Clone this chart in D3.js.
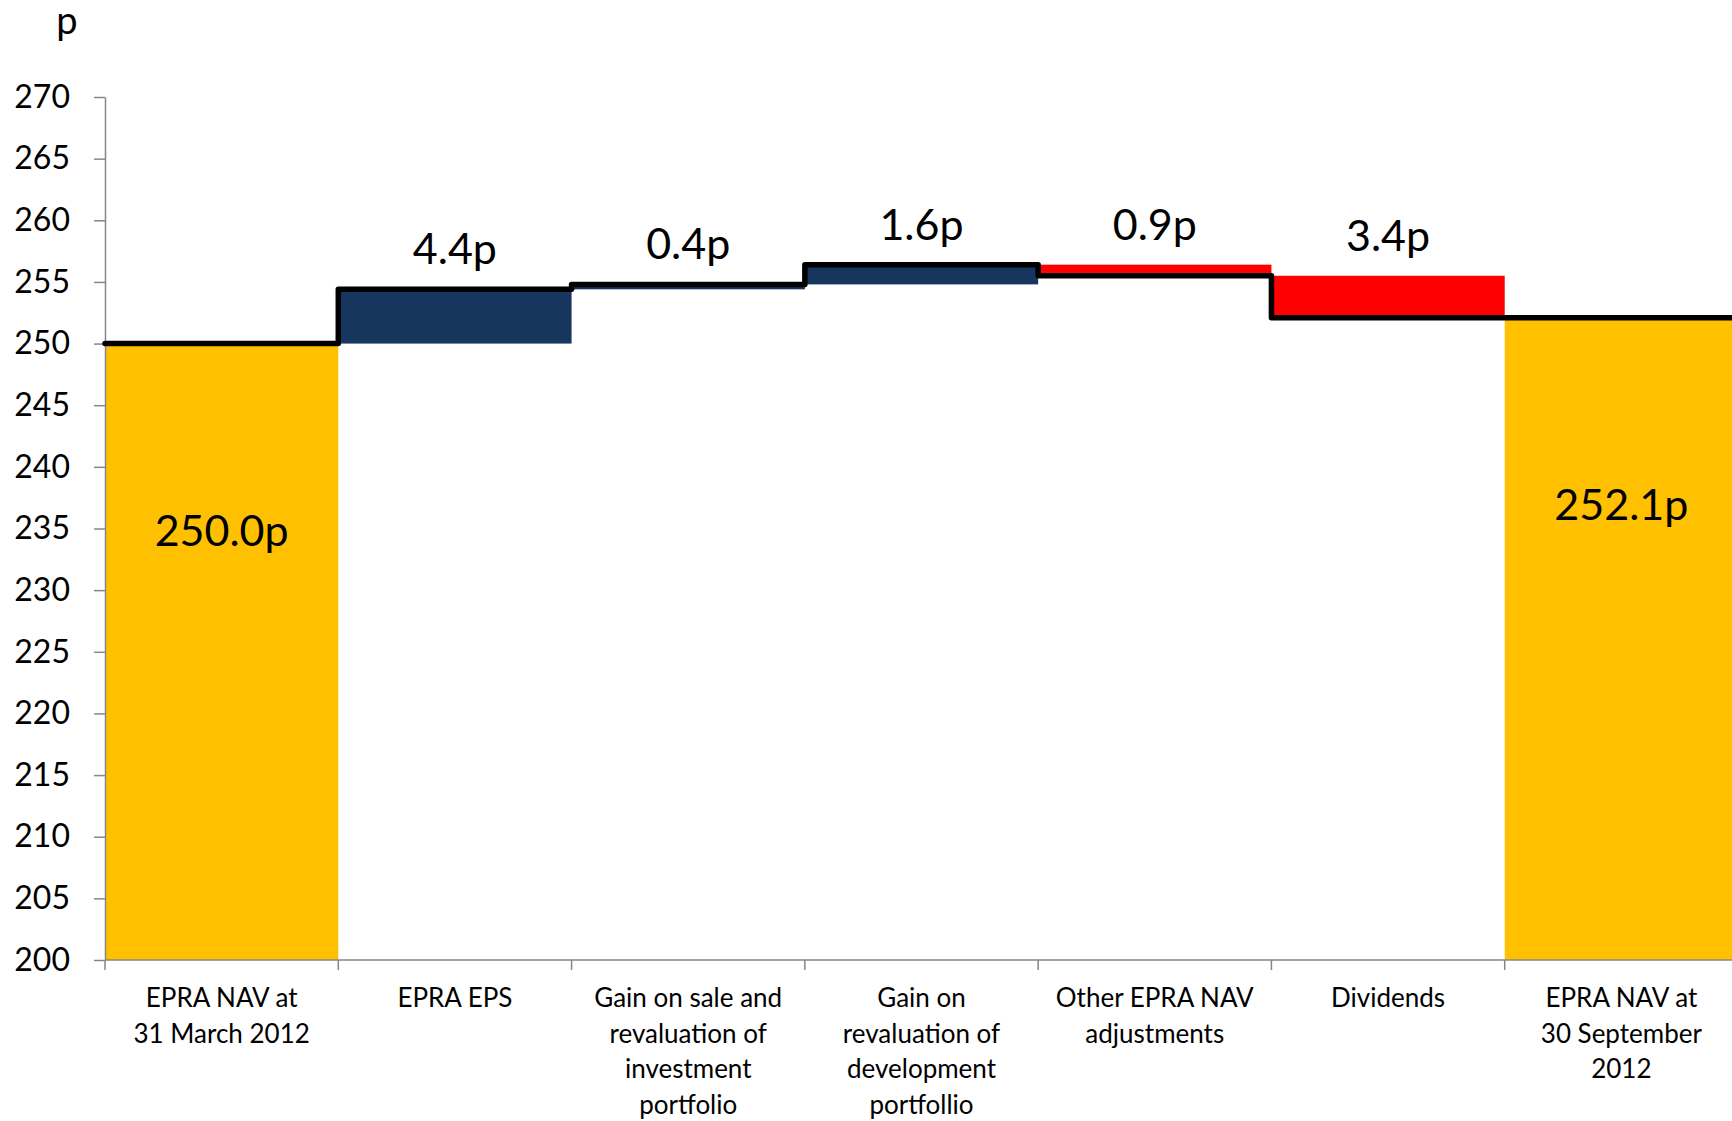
<!DOCTYPE html>
<html>
<head>
<meta charset="utf-8">
<script src="https://cdn.jsdelivr.net/npm/d3@7"></script>
<style>
  html, body { margin: 0; padding: 0; background: #fff; overflow: hidden; }
  svg { display: block; font-family: Lato, "Open Sans", sans-serif; }
</style>
</head>
<body>
<svg id="chart" width="1732" height="1121"></svg>
<script>
// EPRA NAV bridge, 31 March 2012 to 30 September 2012 (pence per share)
const categories = [
  "EPRA NAV at\n31 March 2012",
  "EPRA EPS",
  "Gain on sale and\nrevaluation of\ninvestment\nportfolio",
  "Gain on\nrevaluation of\ndevelopment\nportfollio",
  "Other EPRA NAV\nadjustments",
  "Dividends",
  "EPRA NAV at\n30 September\n2012"
];
const values = [250.0, 4.4, 0.4, 1.6, -0.9, -3.4, 252.1];
const kinds = ["total", "up", "up", "up", "down", "down", "total"];
const valueLabels = ["250.0p", "4.4p", "0.4p", "1.6p", "0.9p", "3.4p", "252.1p"];
const yTicks = [200, 205, 210, 215, 220, 225, 230, 235, 240, 245, 250, 255, 260, 265, 270];
const unitLabel = "p";

const colors = { total: "#FFC000", up: "#17365D", down: "#FF0000" };

const svg = d3.select("#chart");
const plot = { left: 105, right: 1738, top: 97, bottom: 960 };

const x = d3.scaleBand().domain(categories).range([plot.left, plot.right]).padding(0);
const y = d3.scaleLinear().domain([200, 270]).range([plot.bottom, plot.top]);

// running totals for the waterfall
let running = 0;
const bars = categories.map((c, i) => {
  let start, end;
  if (kinds[i] === "total") { start = y.domain()[0]; end = values[i]; running = values[i]; }
  else { start = running; end = running + values[i]; running = end; }
  return { cat: c, start, end, kind: kinds[i], label: valueLabels[i], level: running };
});

// bars
svg.append("g").selectAll("rect").data(bars).join("rect")
  .attr("x", d => x(d.cat))
  .attr("width", x.bandwidth())
  .attr("y", d => y(Math.max(d.start, d.end)))
  .attr("height", d => Math.abs(y(d.start) - y(d.end)))
  .attr("fill", d => colors[d.kind]);

// y axis
const yAxis = svg.append("g")
  .attr("transform", `translate(${plot.left},0)`)
  .call(d3.axisLeft(y).tickValues(yTicks).tickFormat(d3.format("d")).tickSize(11).tickSizeOuter(0).tickPadding(24));
yAxis.select(".domain").attr("stroke", "#868686").attr("stroke-width", 1.5);
yAxis.selectAll(".tick line").attr("stroke", "#868686").attr("stroke-width", 1.5);
yAxis.selectAll(".tick text").attr("font-size", 32).attr("fill", "#000").attr("font-family", "Lato, sans-serif");

// x axis line and boundary ticks
const xg = svg.append("g");
xg.append("line").attr("x1", plot.left).attr("x2", plot.right).attr("y1", plot.bottom).attr("y2", plot.bottom)
  .attr("stroke", "#868686").attr("stroke-width", 1.5);
const boundaries = categories.map(c => x(c));
xg.selectAll(".bt").data(boundaries).join("line").attr("class", "bt")
  .attr("x1", d => d).attr("x2", d => d).attr("y1", plot.bottom).attr("y2", plot.bottom + 10)
  .attr("stroke", "#868686").attr("stroke-width", 1.5);

// category labels
const catText = xg.selectAll(".cat").data(categories).join("text").attr("class", "cat")
  .attr("text-anchor", "middle").attr("font-size", 26).attr("fill", "#000")
  .attr("x", d => x(d) + x.bandwidth() / 2)
  .attr("y", plot.bottom + 47);
catText.selectAll("tspan").data(d => d.split("\n")).join("tspan")
  .attr("x", function () { return d3.select(this.parentNode).attr("x"); })
  .attr("dy", (d, i) => i === 0 ? 0 : 35.7)
  .text(d => d);

// step line tracing the running total
const pts = [];
bars.forEach(b => {
  pts.push([x(b.cat), b.level]);
  pts.push([x(b.cat) + x.bandwidth(), b.level]);
});
svg.append("path").datum(pts)
  .attr("d", d3.line().x(d => d[0]).y(d => y(d[1])))
  .attr("fill", "none").attr("stroke", "#000").attr("stroke-width", 5.5)
  .attr("stroke-linejoin", "round").attr("stroke-linecap", "round");

// value labels
svg.append("g").selectAll("text").data(bars).join("text")
  .attr("text-anchor", "middle").attr("font-size", 43).attr("fill", "#000")
  .attr("x", d => x(d.cat) + x.bandwidth() / 2)
  .attr("y", d => d.kind === "total"
    ? y(d.end) + 187 + 15
    : y(Math.max(d.start, d.end)) - 25)
  .text(d => d.label);

// unit label
svg.append("text").attr("x", 67).attr("y", 34).attr("text-anchor", "middle")
  .attr("font-size", 38).attr("fill", "#000").text(unitLabel);
</script>
</body>
</html>
